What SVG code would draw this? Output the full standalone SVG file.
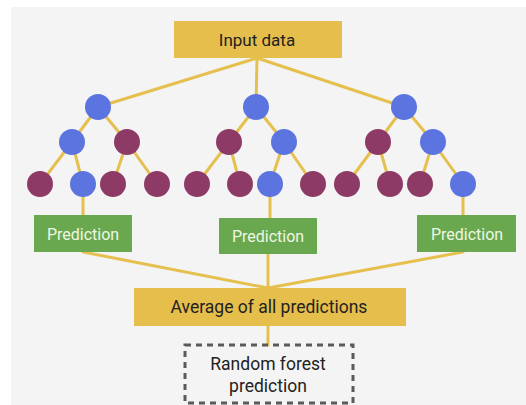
<svg xmlns="http://www.w3.org/2000/svg" width="526" height="405" viewBox="0 0 526 405">
  <style>
    .edge { stroke: #e5c04f; stroke-width: 3; fill: none; stroke-linecap: round; }
    .gold { fill: #e6be4b; }
    .green { fill: #6aa84f; }
    .blue { fill: #5b74e0; }
    .plum { fill: #8d3a66; }
    .t { font-family: Roboto, "Liberation Sans", sans-serif; text-anchor: middle; }
    .dark { fill: #222222; font-size: 17.5px; }
    .light { fill: #eef7e4; font-size: 16px; }
    .dash { fill: none; stroke: #5a5a5a; stroke-width: 3; stroke-dasharray: 6 5; }
  </style>
  <rect width="526" height="405" fill="#ffffff"/>
  <rect x="11" y="7" width="515" height="398" fill="#f4f4f4"/>

  <g id="connectors">
    <!-- input to tree roots -->
    <line class="edge" x1="257" y1="58" x2="98" y2="107"/>
    <line class="edge" x1="257" y1="58" x2="256" y2="107"/>
    <line class="edge" x1="257" y1="58" x2="404" y2="107"/>
    <!-- tree 1 -->
    <line class="edge" x1="98" y1="107" x2="72" y2="142"/>
    <line class="edge" x1="98" y1="107" x2="127" y2="142"/>
    <line class="edge" x1="72" y1="142" x2="40" y2="184"/>
    <line class="edge" x1="72" y1="142" x2="83" y2="184"/>
    <line class="edge" x1="127" y1="142" x2="113" y2="184"/>
    <line class="edge" x1="127" y1="142" x2="157" y2="184"/>
    <!-- tree 2 -->
    <line class="edge" x1="256" y1="107" x2="229" y2="142"/>
    <line class="edge" x1="256" y1="107" x2="284" y2="142"/>
    <line class="edge" x1="229" y1="142" x2="197" y2="184"/>
    <line class="edge" x1="229" y1="142" x2="240" y2="184"/>
    <line class="edge" x1="284" y1="142" x2="270" y2="184"/>
    <line class="edge" x1="284" y1="142" x2="313" y2="184"/>
    <!-- tree 3 -->
    <line class="edge" x1="404" y1="107" x2="378" y2="142"/>
    <line class="edge" x1="404" y1="107" x2="433" y2="142"/>
    <line class="edge" x1="378" y1="142" x2="347" y2="184"/>
    <line class="edge" x1="378" y1="142" x2="390" y2="184"/>
    <line class="edge" x1="433" y1="142" x2="420" y2="184"/>
    <line class="edge" x1="433" y1="142" x2="463" y2="184"/>
    <!-- leaves to predictions -->
    <line class="edge" x1="83" y1="184" x2="83" y2="215"/>
    <line class="edge" x1="270" y1="184" x2="270" y2="218"/>
    <line class="edge" x1="463" y1="184" x2="463" y2="215"/>
    <!-- predictions to average -->
    <line class="edge" x1="83" y1="252" x2="268" y2="288"/>
    <line class="edge" x1="268" y1="254" x2="268" y2="288"/>
    <line class="edge" x1="463" y1="252" x2="268" y2="288"/>
    <!-- average to result -->
    <line class="edge" x1="268" y1="326" x2="268" y2="345"/>
  </g>

  <g id="input">
    <rect class="gold" x="174" y="21" width="168" height="37"/>
    <text class="t dark" x="257" y="46" style="font-size:17px">Input data</text>
  </g>

  <g id="tree1">
    <circle class="blue" cx="98" cy="107" r="13"/>
    <circle class="blue" cx="72" cy="142" r="13"/>
    <circle class="plum" cx="127" cy="142" r="13"/>
    <circle class="plum" cx="40" cy="184" r="13"/>
    <circle class="blue" cx="83" cy="184" r="13"/>
    <circle class="plum" cx="113" cy="184" r="13"/>
    <circle class="plum" cx="157" cy="184" r="13"/>
  </g>

  <g id="tree2">
    <circle class="blue" cx="256" cy="107" r="13"/>
    <circle class="plum" cx="229" cy="142" r="13"/>
    <circle class="blue" cx="284" cy="142" r="13"/>
    <circle class="plum" cx="197" cy="184" r="13"/>
    <circle class="plum" cx="240" cy="184" r="13"/>
    <circle class="blue" cx="270" cy="184" r="13"/>
    <circle class="plum" cx="313" cy="184" r="13"/>
  </g>

  <g id="tree3">
    <circle class="blue" cx="404" cy="107" r="13"/>
    <circle class="plum" cx="378" cy="142" r="13"/>
    <circle class="blue" cx="433" cy="142" r="13"/>
    <circle class="plum" cx="347" cy="184" r="13"/>
    <circle class="plum" cx="390" cy="184" r="13"/>
    <circle class="plum" cx="420" cy="184" r="13"/>
    <circle class="blue" cx="463" cy="184" r="13"/>
  </g>

  <g id="prediction1">
    <rect class="green" x="34" y="215" width="98" height="37"/>
    <text class="t light" x="83" y="239.5">Prediction</text>
  </g>
  <g id="prediction2">
    <rect class="green" x="219" y="218" width="98" height="36"/>
    <text class="t light" x="268" y="242">Prediction</text>
  </g>
  <g id="prediction3">
    <rect class="green" x="417" y="215" width="99" height="37"/>
    <text class="t light" x="467" y="239.5">Prediction</text>
  </g>

  <g id="average">
    <rect class="gold" x="134" y="288" width="272" height="38"/>
    <text class="t dark" x="269" y="313">Average of all predictions</text>
  </g>

  <g id="result">
    <rect class="dash" x="185" y="345" width="168" height="58"/>
    <text class="t dark" x="268" y="370">Random forest</text>
    <text class="t dark" x="268" y="392">prediction</text>
  </g>
</svg>
